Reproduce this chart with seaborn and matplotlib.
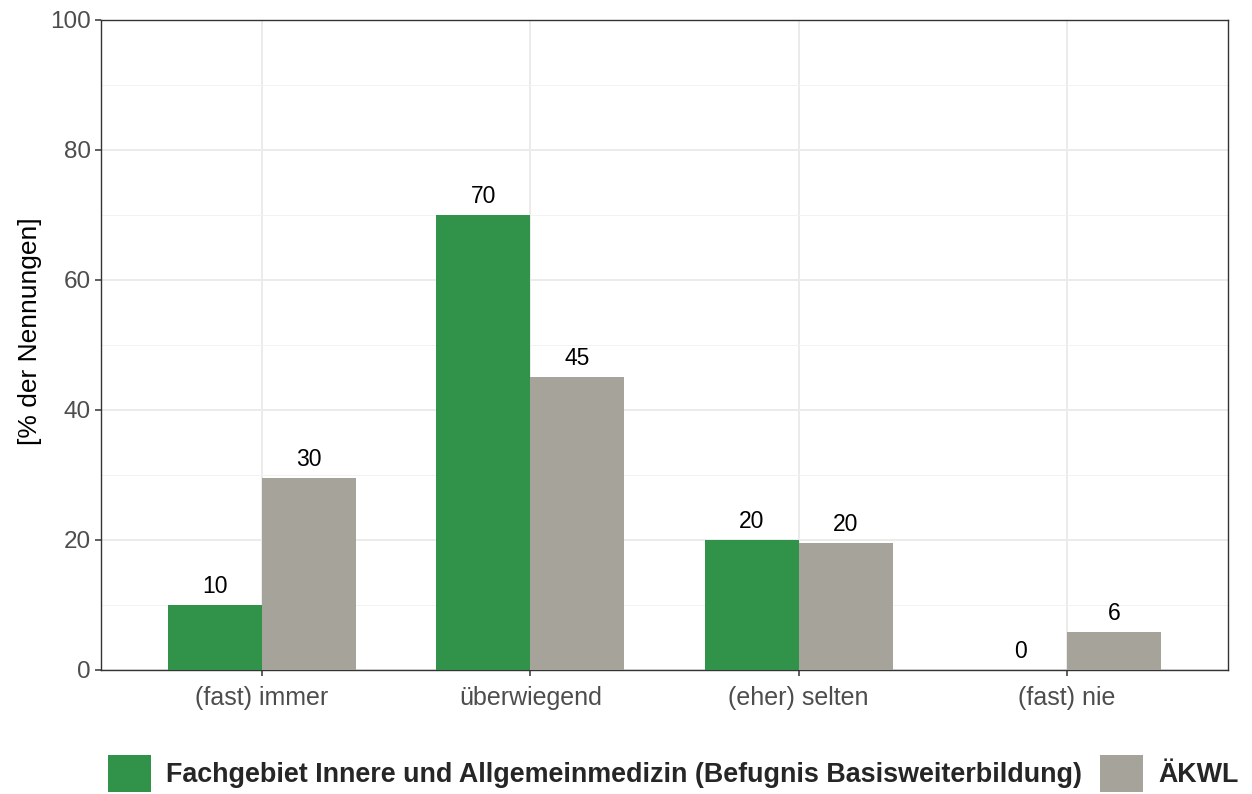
import numpy as np
import pandas as pd
import seaborn as sns
import matplotlib.pyplot as plt
from matplotlib.ticker import MultipleLocator

kategorien = ["(fast) immer", "überwiegend", "(eher) selten", "(fast) nie"]
gruppen = ["Fachgebiet Innere und Allgemeinmedizin (Befugnis Basisweiterbildung)", "ÄKWL"]
werte_fach = [10, 70, 20, 0]
werte_aekwl = [29.5, 45.1, 19.6, 5.8]
labels_fach = ["10", "70", "20", "0"]
labels_aekwl = ["30", "45", "20", "6"]
farben = ["#31934A", "#A6A39B"]

df = pd.DataFrame({
    "kategorie": kategorien * 2,
    "gruppe": [gruppen[0]] * 4 + [gruppen[1]] * 4,
    "wert": werte_fach + werte_aekwl,
})

sns.set_style("white")
plt.rcParams['font.family'] = ['Liberation Sans', 'DejaVu Sans']

fig = plt.figure(figsize=(12.52, 7.94), dpi=100)
ax = fig.add_axes([101 / 1252, 1 - 670 / 794, 1127 / 1252, 650 / 794])

sns.barplot(data=df, x="kategorie", y="wert", hue="gruppe", order=kategorien,
            hue_order=gruppen, palette=farben, width=0.7, gap=0,
            saturation=1, linewidth=0, ax=ax, zorder=3)

for cont, labs in zip(ax.containers, [labels_fach, labels_aekwl]):
    ax.bar_label(cont, labels=labs, padding=5, fontsize=16.5, color="black")

ax.set_xlim(-0.6, 3.6)
ax.set_ylim(0, 100)
ax.yaxis.set_major_locator(MultipleLocator(20))
ax.yaxis.set_minor_locator(MultipleLocator(10))
ax.grid(True, which="major", color="#EBEBEB", linewidth=1.4, zorder=0)
ax.grid(True, which="minor", axis="y", color="#F2F2F2", linewidth=0.7, zorder=0)
ax.set_axisbelow(True)

for s in ax.spines.values():
    s.set_color("#333333")
    s.set_linewidth(1.0)

ax.tick_params(axis="both", which="major", length=4.5, width=1.1, color="#333333",
               labelcolor="#4D4D4D", labelsize=17.5, pad=3, left=True, bottom=True)
ax.tick_params(axis="x", which="major", labelsize=18, pad=7)
ax.tick_params(axis="y", which="minor", length=0)

ax.set_xlabel("")
ax.set_ylabel("[% der Nennungen]", fontsize=19, color="black")
ax.yaxis.set_label_coords(-0.052, 0.521)

sns.move_legend(ax, "upper left", bbox_to_anchor=(108 / 1252, 1 - 755 / 794),
                bbox_transform=fig.transFigure, ncol=2, frameon=False, title=None,
                fontsize=19.4, handlelength=1.58, handleheight=1.75,
                columnspacing=0.68, handletextpad=0.57, borderaxespad=0,
                borderpad=0)
for t in ax.get_legend().get_texts():
    t.set_fontweight("bold")

fig.savefig("out.png", dpi=100, facecolor="white")
